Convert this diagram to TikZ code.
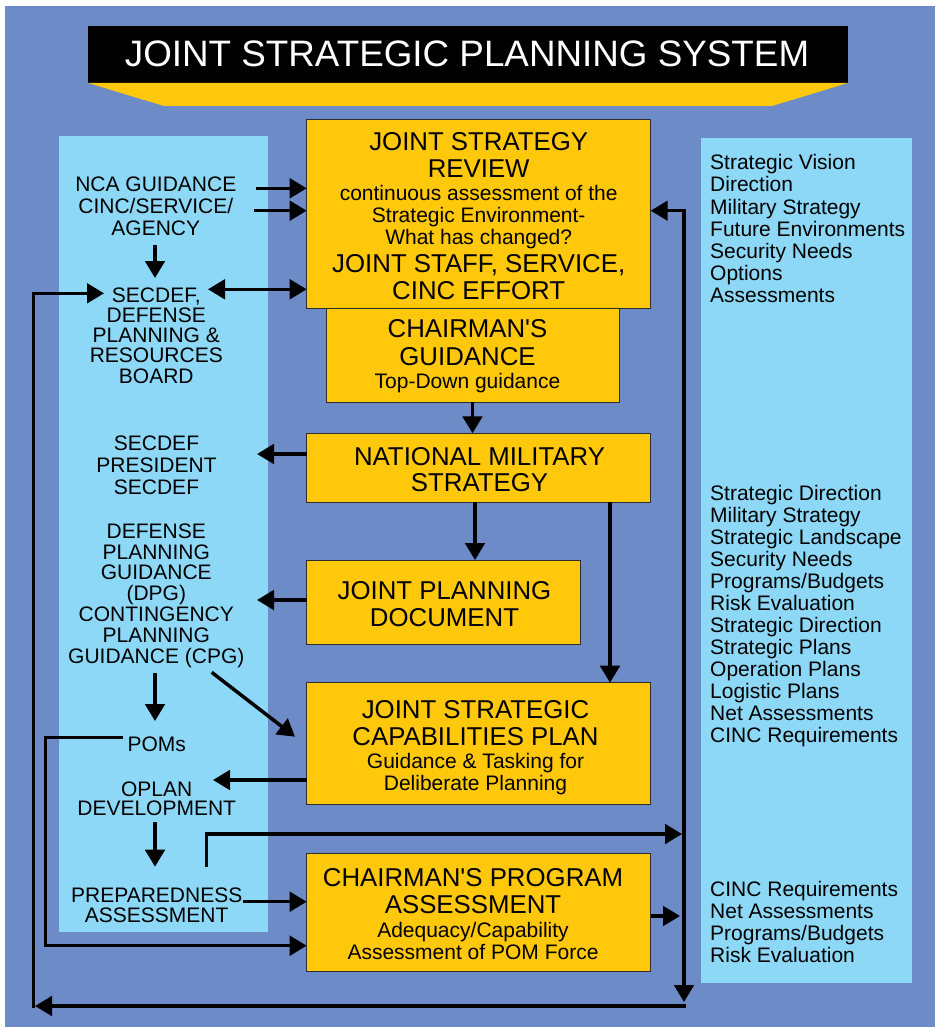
\documentclass[tikz,border=0pt]{standalone}
\usepackage{fontspec}
\setmainfont{Liberation Sans}
\usetikzlibrary{arrows.meta}
\definecolor{bgblue}{RGB}{108,139,199}
\definecolor{panelblue}{RGB}{141,216,246}
\definecolor{yel}{RGB}{255,200,10}
\definecolor{boxline}{RGB}{45,45,45}
\begin{document}
\begin{tikzpicture}[x=1pt,y=-1pt,
  big/.style={font=\fontsize{25.8}{27}\selectfont, anchor=base, inner sep=0pt},
  small/.style={font=\fontsize{21}{22}\selectfont, anchor=base, inner sep=0pt},
  side/.style={font=\fontsize{21}{22}\selectfont, anchor=base, inner sep=0pt},
  rside/.style={font=\fontsize{21}{22}\selectfont, anchor=base west, inner sep=0pt},
  box/.style={draw=boxline, line width=0.9pt, fill=yel, inner sep=0pt, outer sep=0pt, anchor=north west},
  panel/.style={fill=panelblue, inner sep=0pt, outer sep=0pt, anchor=north west},
  tipx/.tip={Triangle[length=17pt,width=19.5pt]},
  arr/.style={line width=3.5pt, -tipx},
  arrtwo/.style={line width=3.5pt, tipx-tipx}]
\useasboundingbox (0,0) rectangle (935,1027);
\fill[white] (0,0) rectangle (935,1027);
\fill[bgblue] (5,6) rectangle (935,1027);

% title
\node[fill=black, inner sep=0pt, outer sep=0pt, anchor=north west, minimum width=760pt, minimum height=57pt] (titlebox) at (88,26) {};
\fill[yel] (titlebox.south west) -- (titlebox.south east) -- (772,106) -- (164,106) -- cycle;
\node[font=\fontsize{36.8}{40}\selectfont, text=white, anchor=base, inner sep=0pt] (title) at (467,66.7) {JOINT STRATEGIC PLANNING SYSTEM};

% side panels
\node[panel, minimum width=209pt, minimum height=796pt] (lpanel) at (59,136) {};
\node[panel, minimum width=210.7pt, minimum height=845pt] (rpanel) at (701,138.3) {};

% central boxes
\node[box, minimum width=293pt, minimum height=102pt] (cg) at (326,300) {};
\node[box, minimum width=344pt, minimum height=188.7pt] (jsr) at (306.7,119.3) {};
\node[box, minimum width=344pt, minimum height=69pt] (nms) at (306.7,433.3) {};
\node[box, minimum width=274pt, minimum height=84pt] (jpd) at (306.7,560) {};
\node[box, minimum width=344pt, minimum height=121.3pt] (jscp) at (306.7,682.7) {};
\node[box, minimum width=344pt, minimum height=118pt] (cpa) at (306.7,853.3) {};

% box texts
\node[big] (jsrA) at (478.7,150.7) {JOINT STRATEGY};
\node[big] (jsrB) at (478.7,177.7) {REVIEW};
\node[small] (jsrC) at (478.7,200.7) {continuous assessment of the};
\node[small] (jsrD) at (478.7,222.7) {Strategic Environment-};
\node[small] (jsrE) at (478.7,244.7) {What has changed?};
\node[big] (jsrF) at (478.7,272) {JOINT STAFF, SERVICE,};
\node[big] (jsrG) at (478.7,299.3) {CINC EFFORT};

\node[big] (cgA) at (467.5,337.7) {CHAIRMAN\textquotesingle S};
\node[big] (cgB) at (467.5,365.3) {GUIDANCE};
\node[small] (cgC) at (467.5,388.7) {Top-Down guidance};

\node[big] (nmsA) at (479.5,465) {NATIONAL MILITARY};
\node[big] (nmsB) at (479.5,491.7) {STRATEGY};

\node[big] (jpdA) at (444.5,599) {JOINT PLANNING};
\node[big] (jpdB) at (444.5,626.7) {DOCUMENT};

\node[big] (jscpA) at (475.5,718.3) {JOINT STRATEGIC};
\node[big] (jscpB) at (475.5,745.7) {CAPABILITIES PLAN};
\node[small] (jscpC) at (475.5,768.3) {Guidance \& Tasking for};
\node[small] (jscpD) at (475.5,790.7) {Deliberate Planning};

\node[big] (cpaA) at (473,886) {CHAIRMAN\textquotesingle S PROGRAM};
\node[big] (cpaB) at (473,913.3) {ASSESSMENT};
\node[small] (cpaC) at (473,937.3) {Adequacy/Capability};
\node[small] (cpaD) at (473,959.3) {Assessment of POM Force};

% left panel texts
\foreach \t [count=\i] in {NCA GUIDANCE, CINC/SERVICE/, AGENCY}
  \node[side] (nca\i) at (155.8,{169+22*\i}) {\t};
\foreach \t [count=\i] in {{SECDEF,}, DEFENSE, PLANNING \&, RESOURCES, BOARD}
  \node[side] (sec\i) at (156.3,{281.7+20.3*\i}) {\t};
\foreach \t [count=\i] in {SECDEF, PRESIDENT, SECDEF}
  \node[side] (pres\i) at (156.5,{428+22*\i}) {\t};
\foreach \t [count=\i] in {DEFENSE, PLANNING, GUIDANCE, (DPG), CONTINGENCY, PLANNING, GUIDANCE (CPG)}
  \node[side] (dpg\i) at (156.3,{517.5+20.83*\i}) {\t};
\node[side] (poms) at (156.7,751.7) {POMs};
\node[side] (oplan1) at (156.7,796) {OPLAN};
\node[side] (oplan2) at (156.7,815.5) {DEVELOPMENT};
\node[side] (prep1) at (156.7,902.7) {PREPAREDNESS};
\node[side] (prep2) at (156.7,922.3) {ASSESSMENT};

% right panel texts
\foreach \t [count=\i] in {Strategic Vision, Direction, Military Strategy, Future Environments, Security Needs, Options, Assessments}
  \node[rside] (ra\i) at (710,{148+22*\i}) {\t};
\foreach \t [count=\i] in {Strategic Direction, Military Strategy, Strategic Landscape, Security Needs, Programs/Budgets, Risk Evaluation, Strategic Direction, Strategic Plans, Operation Plans, Logistic Plans, Net Assessments, CINC Requirements}
  \node[rside] (rb\i) at (710,{477.94+22.06*\i}) {\t};
\foreach \t [count=\i] in {CINC Requirements, Net Assessments, Programs/Budgets, Risk Evaluation}
  \node[rside] (rc\i) at (710,{874.7+22*\i}) {\t};

% connector end points
\coordinate (ncaOut) at (256,188.3);
\coordinate (cincOut) at (254,210.7);
\coordinate (ncaDown) at (155,245);
\coordinate (secIn) at (155,278);
\coordinate (secR) at (208,289.3);
\coordinate (presIn) at (257,454);
\coordinate (dpgIn) at (257,600);
\coordinate (oplanIn) at (213,780);
\coordinate (cpgDown) at (155,672.7);
\coordinate (pomsIn) at (155,721);
\coordinate (cpgDiag) at (211.7,672.3);
\coordinate (jscpDiag) at (295,736.7);
\coordinate (pomsOut) at (123,737.3);
\coordinate (pomsCornerA) at (45.7,737.3);
\coordinate (pomsCornerB) at (45.7,945.7);
\coordinate (oplanDown) at (155,821.7);
\coordinate (prepIn) at (155,866.7);
\coordinate (prepUp) at (206.7,867.3);
\coordinate (fbInA) at (682,834);
\coordinate (prepOut) at (243.3,901.7);
\coordinate (fbInB) at (680,916);
\coordinate (fbStart) at (684,988);
\coordinate (fbMid) at (684,960);
\coordinate (fbBot) at (684,1002);
\coordinate (botR) at (685.7,1006);
\coordinate (botL) at (35,1006);
\coordinate (loopStart) at (33.5,1007.7);
\coordinate (secLoopIn) at (104,293.3);

% connectors
\draw[arr] (ncaOut) -- (jsr.west |- ncaOut);
\draw[arr] (cincOut) -- (jsr.west |- cincOut);
\draw[arr] (ncaDown) -- (secIn);
\draw[arrtwo] (secR) -- (jsr.west |- secR);
\draw[arr] (cg.south) -- (cg.south |- nms.north);
\draw[arr] (nms.west |- presIn) -- (presIn);
\draw[arr] (nms.south -| 475,0) -- (jpd.north -| 475,0);
\draw[arr] (nms.south -| 610,0) -- (jscp.north -| 610,0);
\draw[arr] (jpd.west |- dpgIn) -- (dpgIn);
\draw[arr] (jscp.west |- oplanIn) -- (oplanIn);
\draw[arr] (cpgDown) -- (pomsIn);
\draw[arr] (cpgDiag) -- (jscpDiag);
\draw[arr] (pomsOut) -- (pomsCornerA) -- (pomsCornerB) -- (cpa.west |- pomsCornerB);
\draw[arr] (oplanDown) -- (prepIn);
\draw[arr] (prepUp) |- (fbInA);
\draw[arr] (prepOut) -- (cpa.west |- prepOut);
\draw[arr] (cpa.east |- fbInB) -- (fbInB);
\draw[arr] (fbStart) |- (jsr.east |- 0,210.7);
\draw[arr] (fbMid) -- (fbBot);
\draw[arr] (botR) -- (botL);
\draw[arr] (loopStart) |- (secLoopIn);
\end{tikzpicture}
\end{document}
